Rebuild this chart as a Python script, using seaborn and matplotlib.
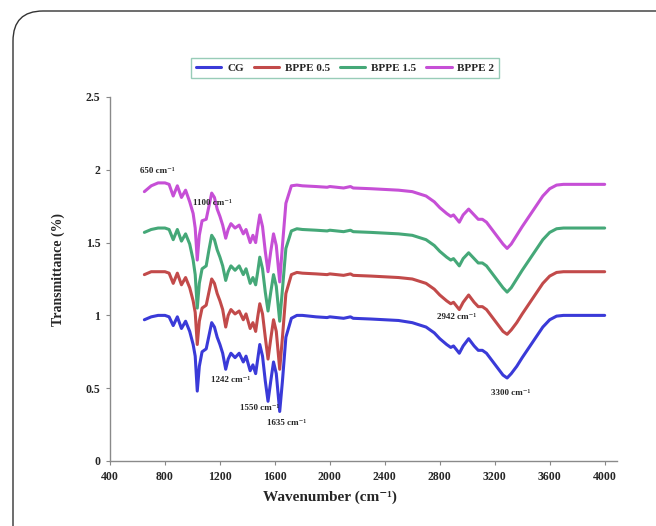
import pandas as pd
import numpy as np
import matplotlib
matplotlib.use("Agg")
import matplotlib.pyplot as plt
import seaborn as sns
from matplotlib.patches import FancyBboxPatch

# wavenumber grid (cm-1)
wavenumber = [650, 700, 750, 800, 830, 860, 890, 920, 950, 980,
              1005, 1020, 1035, 1050, 1070, 1100, 1120, 1140, 1160, 1180,
              1200, 1220, 1242, 1260, 1280, 1310, 1340, 1370, 1390, 1420,
              1440, 1460, 1475, 1490, 1510, 1530, 1550, 1570, 1590, 1610,
              1635, 1655, 1680, 1720, 1760, 1800, 1900, 1980, 2000, 2100,
              2150, 2170, 2300, 2400, 2500, 2600, 2700, 2760, 2800, 2850,
              2880, 2900, 2942, 2970, 3010, 3050, 3080, 3110, 3140, 3180,
              3220, 3260, 3290, 3320, 3360, 3400, 3450, 3500, 3550, 3600,
              3650, 3700, 3800, 3900, 4000]

cg = [0.97, 0.99, 1.00, 1.00, 0.99, 0.93, 0.99, 0.91, 0.96, 0.89,
      0.80, 0.72, 0.48, 0.65, 0.75, 0.77, 0.86, 0.95, 0.92, 0.85,
      0.80, 0.74, 0.63, 0.70, 0.74, 0.71, 0.74, 0.68, 0.72, 0.62,
      0.66, 0.60, 0.70, 0.80, 0.72, 0.55, 0.41, 0.55, 0.68, 0.60,
      0.34, 0.55, 0.85, 0.98, 1.00, 1.00, 0.99, 0.985, 0.99, 0.98,
      0.99, 0.98, 0.975, 0.97, 0.965, 0.95, 0.92, 0.88, 0.84, 0.80,
      0.78, 0.79, 0.74, 0.79, 0.84, 0.79, 0.76, 0.76, 0.74, 0.69,
      0.64, 0.59, 0.57, 0.60, 0.65, 0.71, 0.78, 0.85, 0.92, 0.97,
      0.995, 1.00, 1.00, 1.00, 1.00]

bppe_05 = [1.28, 1.30, 1.30, 1.30, 1.29, 1.22, 1.29, 1.21, 1.26, 1.19,
           1.10, 1.02, 0.80, 0.96, 1.05, 1.07, 1.16, 1.25, 1.22, 1.15,
           1.10, 1.04, 0.92, 1.00, 1.04, 1.01, 1.03, 0.97, 1.01, 0.91,
           0.95, 0.89, 0.99, 1.08, 1.01, 0.85, 0.70, 0.84, 0.97, 0.89,
           0.63, 0.85, 1.15, 1.28, 1.295, 1.29, 1.285, 1.28, 1.285, 1.275,
           1.285, 1.275, 1.27, 1.265, 1.26, 1.25, 1.22, 1.18, 1.14, 1.10,
           1.08, 1.09, 1.04, 1.09, 1.14, 1.09, 1.06, 1.06, 1.04, 0.99,
           0.94, 0.89, 0.87, 0.90, 0.95, 1.01, 1.08, 1.15, 1.22, 1.27,
           1.295, 1.30, 1.30, 1.30, 1.30]

bppe_15 = [1.57, 1.59, 1.60, 1.60, 1.59, 1.52, 1.59, 1.51, 1.56, 1.49,
           1.38, 1.28, 1.05, 1.22, 1.32, 1.34, 1.45, 1.55, 1.52, 1.45,
           1.40, 1.34, 1.24, 1.30, 1.34, 1.31, 1.34, 1.28, 1.32, 1.22,
           1.26, 1.21, 1.30, 1.40, 1.32, 1.16, 1.03, 1.16, 1.28, 1.20,
           0.96, 1.18, 1.46, 1.58, 1.595, 1.59, 1.585, 1.58, 1.585, 1.575,
           1.585, 1.575, 1.57, 1.565, 1.56, 1.55, 1.52, 1.48, 1.44, 1.40,
           1.38, 1.39, 1.34, 1.39, 1.43, 1.39, 1.36, 1.36, 1.34, 1.29,
           1.24, 1.19, 1.16, 1.19, 1.25, 1.31, 1.38, 1.45, 1.52, 1.57,
           1.595, 1.60, 1.60, 1.60, 1.60]

bppe_2 = [1.85, 1.89, 1.91, 1.91, 1.90, 1.82, 1.89, 1.81, 1.86, 1.78,
          1.70, 1.60, 1.38, 1.55, 1.65, 1.66, 1.75, 1.84, 1.81, 1.73,
          1.68, 1.62, 1.53, 1.59, 1.63, 1.60, 1.62, 1.56, 1.59, 1.50,
          1.55, 1.50, 1.60, 1.69, 1.61, 1.44, 1.30, 1.44, 1.56, 1.48,
          1.23, 1.48, 1.77, 1.89, 1.895, 1.89, 1.885, 1.88, 1.885, 1.875,
          1.885, 1.875, 1.87, 1.865, 1.86, 1.85, 1.82, 1.78, 1.74, 1.70,
          1.68, 1.69, 1.64, 1.69, 1.73, 1.69, 1.66, 1.66, 1.64, 1.59,
          1.54, 1.49, 1.46, 1.49, 1.55, 1.61, 1.68, 1.75, 1.82, 1.87,
          1.895, 1.90, 1.90, 1.90, 1.90]

series_names = ["CG", "BPPE 0.5", "BPPE 1.5", "BPPE 2"]
colors = ["#3a3ad8", "#c24a4a", "#45a878", "#c64fd6"]

# peak labels
peak_labels = ["650 cm⁻¹", "1100 cm⁻¹", "1242 cm⁻¹", "1550 cm⁻¹",
               "1635 cm⁻¹", "2942 cm⁻¹", "3300 cm⁻¹"]
peak_x = [620, 1005, 1136, 1347, 1544, 2783, 3170]
peak_y = [1.99, 1.77, 0.555, 0.365, 0.26, 0.99, 0.47]

sns.set_style("white")
serif = ["Liberation Serif", "DejaVu Serif"]
plt.rcParams["font.family"] = serif

fig = plt.figure(figsize=(6.56, 5.26), dpi=100)
ax = fig.add_axes([0.1677, 0.1236, 0.7729, 0.692])

for name, vals, col in zip(series_names, [cg, bppe_05, bppe_15, bppe_2], colors):
    df = pd.DataFrame({"wn": wavenumber, "T": vals})
    sns.lineplot(data=df, x="wn", y="T", ax=ax, color=col, linewidth=2.2,
                 sort=False, label=name)

for lab, x, y in zip(peak_labels, peak_x, peak_y):
    ax.text(x, y, lab, fontsize=6.5, fontweight="bold", ha="left", va="center",
            family=serif)

ax.set_xlim(400, 4090)
ax.set_ylim(0, 2.5)
ax.set_xticks(np.arange(400, 4001, 400))
ax.set_yticks([0, 0.5, 1, 1.5, 2, 2.5])
ax.set_yticklabels(["0", "0.5", "1", "1.5", "2", "2.5"])
for lab in ax.get_xticklabels() + ax.get_yticklabels():
    lab.set_fontweight("bold")
    lab.set_fontsize(8.5)
ax.tick_params(axis="both", direction="out", length=3, width=0.8,
               color="#888888", pad=4)
ax.tick_params(bottom=True, left=True)
for s in ["top", "right"]:
    ax.spines[s].set_visible(False)
for s in ["left", "bottom"]:
    ax.spines[s].set_color("#8a8a8a")
    ax.spines[s].set_linewidth(1.0)

ax.set_xlabel("Wavenumber (cm⁻¹)", fontsize=11, fontweight="bold")
ax.set_ylabel("Transmittance (%)", fontsize=10, fontweight="bold")
ax.xaxis.set_label_coords(0.434, -0.08)
ax.yaxis.set_label_coords(-0.088, 0.525)

handles, labels = ax.get_legend_handles_labels()
ax.get_legend().remove()
leg = fig.legend(handles, labels, loc="center", bbox_to_anchor=(0.526, 0.871),
                 ncol=4, frameon=True, fancybox=False,
                 handlelength=2.3, columnspacing=0.9, handletextpad=0.5,
                 borderpad=0.45, prop={"weight": "bold", "size": 8})
leg.get_frame().set_edgecolor("#7fc0a6")
leg.get_frame().set_linewidth(1.0)

# outer rounded frame
frame = FancyBboxPatch((0.13, -1.0), 7.0, 6.15,
                       boxstyle="round,pad=0,rounding_size=0.3",
                       transform=fig.dpi_scale_trans, fill=False,
                       edgecolor="#333333", linewidth=1.0)
fig.patches.append(frame)

fig.savefig("out.png", dpi=100)
